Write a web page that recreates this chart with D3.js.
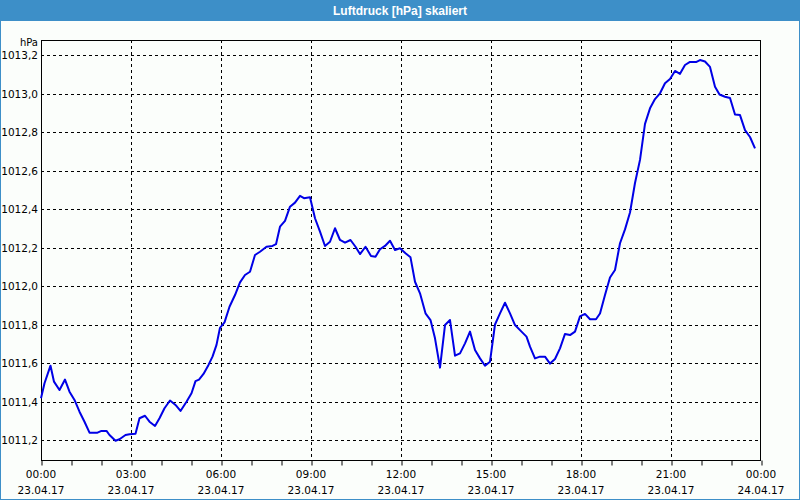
<!DOCTYPE html>
<html><head><meta charset="utf-8">
<script src="https://cdn.jsdelivr.net/npm/d3@7"></script>
<style>html,body{margin:0;padding:0;background:#fff;}svg{display:block;}</style>
</head><body>
<svg id="chart" width="800" height="500"></svg>
<script>
const title = "Luftdruck [hPa] skaliert";
const unitLabel = "hPa";
// minutes after 23.04.17 00:00
const minutes = [0,7,19,26,37,48,57,67,77,87,97,113,121,131,137,149,157,169,177,189,197,208,217,228,237,247,258,269,279,291,301,309,316,325,335,343,351,358,367,377,388,398,408,418,428,438,451,463,470,478,488,498,508,518,526,538,548,558,568,578,588,598,608,619,629,638,649,660,669,678,688,698,708,718,729,739,748,758,769,779,788,798,808,818,828,838,848,858,868,878,888,898,908,918,928,938,948,961,971,978,988,998,1008,1018,1028,1038,1048,1058,1068,1078,1088,1098,1110,1118,1128,1138,1148,1158,1168,1178,1188,1198,1208,1218,1228,1238,1248,1258,1268,1278,1288,1298,1311,1318,1328,1338,1348,1357,1368,1378,1388,1398,1408,1418,1428];
const pressure = [1011.417,1011.495,1011.586,1011.503,1011.460,1011.514,1011.451,1011.408,1011.347,1011.295,1011.238,1011.238,1011.247,1011.247,1011.226,1011.196,1011.204,1011.226,1011.230,1011.233,1011.313,1011.326,1011.295,1011.273,1011.313,1011.365,1011.405,1011.382,1011.351,1011.399,1011.443,1011.506,1011.514,1011.543,1011.590,1011.633,1011.694,1011.783,1011.811,1011.892,1011.953,1012.019,1012.057,1012.074,1012.161,1012.178,1012.204,1012.208,1012.217,1012.308,1012.338,1012.412,1012.433,1012.468,1012.456,1012.461,1012.352,1012.282,1012.208,1012.230,1012.300,1012.239,1012.225,1012.239,1012.204,1012.166,1012.204,1012.156,1012.152,1012.191,1012.208,1012.235,1012.187,1012.196,1012.170,1012.149,1012.022,1011.962,1011.858,1011.823,1011.728,1011.576,1011.797,1011.823,1011.638,1011.650,1011.702,1011.763,1011.668,1011.624,1011.586,1011.607,1011.800,1011.858,1011.913,1011.858,1011.797,1011.763,1011.737,1011.685,1011.624,1011.633,1011.633,1011.597,1011.621,1011.676,1011.751,1011.745,1011.763,1011.842,1011.855,1011.827,1011.827,1011.857,1011.953,1012.044,1012.083,1012.222,1012.294,1012.382,1012.535,1012.655,1012.842,1012.923,1012.971,1013.001,1013.053,1013.075,1013.117,1013.102,1013.148,1013.164,1013.164,1013.174,1013.166,1013.138,1013.035,1012.995,1012.983,1012.977,1012.891,1012.888,1012.810,1012.774,1012.715];
const yTicks = [1011.2,1011.4,1011.6,1011.8,1012.0,1012.2,1012.4,1012.6,1012.8,1013.0,1013.2];
const xTickHours = [0,3,6,9,12,15,18,21,24];
const xTimeLabels = ["00:00","03:00","06:00","09:00","12:00","15:00","18:00","21:00","00:00"];
const xDateLabels = ["23.04.17","23.04.17","23.04.17","23.04.17","23.04.17","23.04.17","23.04.17","23.04.17","24.04.17"];

(function(){
const svg = d3.select("#chart");
const W = 800, H = 500;
const pL = 41, pR = 761, pT = 40, pB = 460;
const font = "'DejaVu Sans', Verdana, sans-serif";

svg.append("rect").attr("x",0).attr("y",0).attr("width",W).attr("height",H).attr("fill","#fbfefb");
svg.append("rect").attr("x",0).attr("y",0).attr("width",W).attr("height",21).attr("fill","#3d8fc8");
svg.append("rect").attr("x",0.5).attr("y",0.5).attr("width",W-1).attr("height",H-1).attr("fill","none").attr("stroke","#3d8fc8");
svg.append("text").attr("x",W/2).attr("y",15).attr("text-anchor","middle")
  .attr("fill","#fff").attr("font-family","'Liberation Sans', Arial, sans-serif").attr("font-weight","bold").attr("font-size","12px").text(title);

const x = d3.scaleLinear().domain([0, 24*60]).range([pL, pR]);
const y = d3.scaleLinear().domain([1011.2, 1013.2]).range([440, 55]);

const g = svg.append("g");
g.selectAll(".hg").data(yTicks).join("line")
  .attr("x1",pL).attr("x2",pR-1).attr("y1",d=>Math.round(y(d))+0.5).attr("y2",d=>Math.round(y(d))+0.5)
  .attr("stroke","#000").attr("stroke-dasharray","3,3");
g.selectAll(".vg").data(xTickHours.slice(1,-1)).join("line")
  .attr("x1",d=>Math.round(x(d*60))+0.5).attr("x2",d=>Math.round(x(d*60))+0.5).attr("y1",pT).attr("y2",pB)
  .attr("stroke","#000").attr("stroke-dasharray","3,3");

const xAxis = d3.axisBottom(x).tickValues(d3.range(0,25).map(h=>h*60)).tickSize(5).tickFormat("");
const xa = svg.append("g").attr("transform",`translate(0.5,${pB+0.5})`).call(xAxis);
xa.select(".domain").remove();
xa.selectAll("line").attr("stroke","#000");

svg.append("rect").attr("x",pL+0.5).attr("y",pT+0.5).attr("width",pR-pL-1).attr("height",pB-pT).attr("fill","none").attr("stroke","#000");

svg.selectAll(".yl").data(yTicks).join("text")
  .attr("x",38).attr("y",d=>y(d)+4).attr("text-anchor","end")
  .attr("font-family",font).attr("font-size","10.5px").attr("fill","#000")
  .text(d=>d.toFixed(1).replace(".",","));
svg.append("text").attr("x",38).attr("y",46).attr("text-anchor","end")
  .attr("font-family",font).attr("font-size","10px").attr("fill","#000").text(unitLabel);

svg.selectAll(".xt").data(xTickHours).join("text")
  .attr("x",d=>x(d*60)).attr("y",478).attr("text-anchor","middle")
  .attr("font-family",font).attr("font-size","10.5px").attr("fill","#000")
  .text((d,i)=>xTimeLabels[i]);
svg.selectAll(".xd").data(xTickHours).join("text")
  .attr("x",d=>x(d*60)).attr("y",494).attr("text-anchor","middle")
  .attr("font-family",font).attr("font-size","10.5px").attr("fill","#000")
  .text((d,i)=>xDateLabels[i]);

const data = minutes.map((m,i)=>({m, v: pressure[i]}));
svg.append("path").datum(data)
  .attr("d", d3.line().x(d=>x(d.m)).y(d=>y(d.v)))
  .attr("fill","none").attr("stroke","#0000e6").attr("stroke-width",2).attr("stroke-linejoin","round");
})();
</script>
</body></html>
